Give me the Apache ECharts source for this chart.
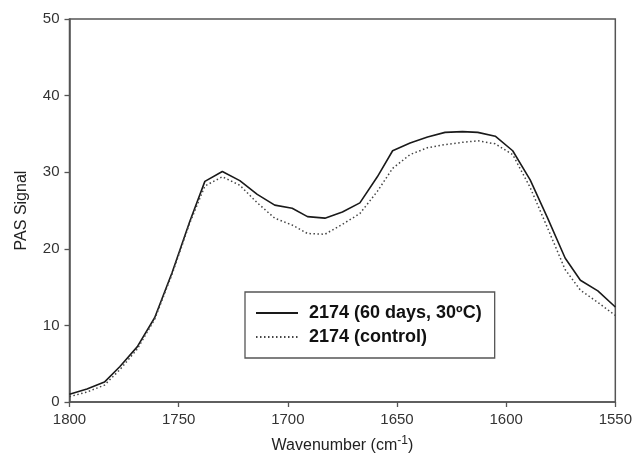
<!DOCTYPE html>
<html>
<head>
<meta charset="utf-8">
<script src="https://cdn.jsdelivr.net/npm/echarts@6/dist/echarts.min.js"></script>
<style>
html,body{margin:0;padding:0;background:#fff;}
#chart{width:635px;height:461px;}
</style>
</head>
<body>
<div id="chart"></div>
<script>
// Wavenumbers (cm-1)
var wavenumbers = [1800, 1792, 1784, 1777, 1769, 1761, 1753, 1745, 1738, 1730, 1722, 1714, 1706, 1698, 1691, 1683, 1675, 1667, 1659, 1652, 1644, 1636, 1628, 1620, 1613, 1605, 1597, 1589, 1581, 1573, 1566, 1558, 1550];
// 2174 (60 days, 30ºC)
var aged = [1.0, 1.7, 2.6, 4.6, 7.2, 11.0, 16.9, 23.5, 28.8, 30.1, 28.9, 27.1, 25.7, 25.3, 24.2, 24.0, 24.8, 26.0, 29.4, 32.8, 33.8, 34.6, 35.2, 35.3, 35.2, 34.7, 32.8, 29.0, 24.0, 18.8, 15.9, 14.5, 12.4];
// 2174 (control)
var control = [0.7, 1.3, 2.2, 4.2, 6.9, 10.8, 16.7, 23.3, 28.2, 29.4, 28.3, 26.0, 24.0, 23.1, 22.0, 21.9, 23.2, 24.6, 27.5, 30.5, 32.3, 33.2, 33.6, 33.9, 34.1, 33.7, 32.3, 28.0, 22.7, 17.3, 14.6, 13.0, 11.3];
var seriesNames = ['2174 (60 days, 30ºC)', '2174 (control)'];
var xTicks = [1800, 1750, 1700, 1650, 1600, 1550];
var yTicks = [0, 10, 20, 30, 40, 50];

function pairs(xs, ys) {
  return xs.map(function (x, i) { return [x, ys[i]]; });
}

var chart = echarts.init(document.getElementById('chart'), null, {renderer: 'canvas'});
var fontFam = '"Liberation Sans", Arial, sans-serif';
var axisColor = '#555';
chart.setOption({
  animation: false,
  backgroundColor: '#fff',
  grid: {
    left: 69.5, right: 19, top: 19, bottom: 59,
    show: true, borderColor: axisColor, borderWidth: 1.5, backgroundColor: 'transparent'
  },
  legend: {
    orient: 'vertical',
    left: 245, top: 292,
    padding: [12, 13, 12, 10],
    borderColor: axisColor, borderWidth: 1.3,
    itemWidth: 42, itemHeight: 18, itemGap: 6,
    itemStyle: {color: 'rgba(0,0,0,0)', borderWidth: 0, opacity: 0},
    textStyle: {fontFamily: fontFam, fontWeight: 'bold', fontSize: 18, color: '#111', padding: [0, 0, 0, 6], lineHeight: 18},
    data: seriesNames
  },
  xAxis: {
    type: 'value', inverse: true, min: 1550, max: 1800, interval: 50,
    name: 'Wavenumber (cm{sup|-1})',
    nameLocation: 'middle', nameGap: 33,
    nameTextStyle: {
      fontFamily: fontFam, fontSize: 16, color: '#222',
      rich: {sup: {fontFamily: fontFam, fontSize: 12, color: '#222', verticalAlign: 'bottom', padding: [0, 0, 10, 0]}}
    },
    axisLine: {show: true, onZero: false, lineStyle: {color: axisColor, width: 1.5}},
    axisTick: {show: true, inside: false, length: 5, lineStyle: {color: axisColor, width: 1.3}},
    axisLabel: {fontFamily: fontFam, fontSize: 15, color: '#333', margin: 10,
      formatter: function (v) { return xTicks.indexOf(v) >= 0 ? String(v) : ''; }},
    splitLine: {show: false}
  },
  yAxis: {
    type: 'value', min: 0, max: 50, interval: 10,
    name: 'PAS Signal',
    nameLocation: 'middle', nameGap: 40,
    nameTextStyle: {fontFamily: fontFam, fontSize: 16, color: '#222'},
    axisLine: {show: true, lineStyle: {color: axisColor, width: 1.5}},
    axisTick: {show: true, inside: false, length: 5, lineStyle: {color: axisColor, width: 1.3}},
    axisLabel: {fontFamily: fontFam, fontSize: 15, color: '#333', margin: 10,
      formatter: function (v) { return yTicks.indexOf(v) >= 0 ? String(v) : ''; }},
    splitLine: {show: false}
  },
  series: [
    {
      name: seriesNames[0], type: 'line', symbol: 'none', smooth: false,
      data: pairs(wavenumbers, aged),
      lineStyle: {color: '#1a1a1a', width: 1.6, type: 'solid'},
      itemStyle: {color: '#1a1a1a'}
    },
    {
      name: seriesNames[1], type: 'line', symbol: 'none', smooth: false,
      data: pairs(wavenumbers, control),
      lineStyle: {color: '#444', width: 1.5, type: [1.5, 2.5]},
      itemStyle: {color: '#444'}
    }
  ]
});
</script>
</body>
</html>
